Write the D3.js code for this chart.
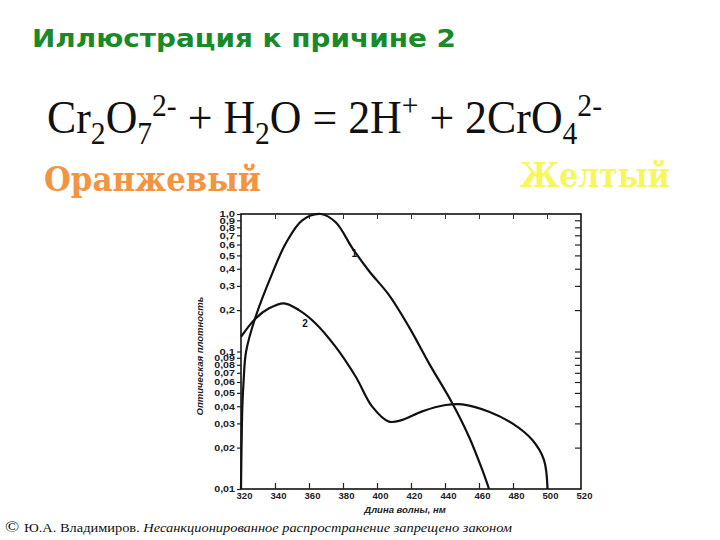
<!DOCTYPE html>
<html><head><meta charset="utf-8">
<script src="https://cdn.jsdelivr.net/npm/d3@7"></script>
<style>body{margin:0;background:#fff}svg{display:block}</style>
</head><body>
<script>
// ---- data ----
const curve1X = [320, 320.8, 321.5, 323, 328.6, 338.4, 346.3, 356, 366.9, 375.7, 385.5, 395.3, 407, 418.8, 430.6, 444.3, 454.1, 462, 465.9];
const curve1Y = [0.01, 0.04, 0.06, 0.1, 0.179, 0.37, 0.61, 0.90, 1.0, 0.87, 0.565, 0.385, 0.258, 0.151, 0.082, 0.042, 0.024, 0.0137, 0.01];
const curve2X = [320, 328.6, 336.5, 345.3, 354.1, 363.9, 375.7, 387.5, 397.2, 407, 414.9, 426.6, 440.4, 450.2, 465.9, 479.6, 491.4, 498.2, 500.3];
const curve2Y = [0.128, 0.174, 0.206, 0.224, 0.2, 0.16, 0.108, 0.0655, 0.0397, 0.0309, 0.0318, 0.0367, 0.0408, 0.0413, 0.0365, 0.030, 0.0227, 0.0163, 0.01];
const yTicks = [1, 0.9, 0.8, 0.7, 0.6, 0.5, 0.4, 0.3, 0.2, 0.1, 0.09, 0.08, 0.07, 0.06, 0.05, 0.04, 0.03, 0.02, 0.01];
const xTicks = [320, 340, 360, 380, 400, 420, 440, 460, 480, 500, 520];
const curveLabels = ["1", "2"];
const curveLabelAt = [[385, 0.49], [356, 0.15]];
const titleText = "Иллюстрация к причине 2";
const orangeText = "Оранжевый";
const yellowText = "Желтый";
const yTitle = "Оптическая плотность";
const xTitle = "Длина волны, нм";

const W = 720, H = 540;
const svg = d3.select("body").append("svg").attr("width", W).attr("height", H);

// ---- header ----
svg.append("text").attr("x", 32).attr("y", 47)
  .attr("font-family", "DejaVu Sans, Verdana, sans-serif").attr("font-weight", "bold")
  .attr("font-size", 25).attr("fill", "#188a27")
  .attr("textLength", 424).attr("lengthAdjust", "spacingAndGlyphs")
  .text(titleText);

const eq = svg.append("text").attr("x", 47).attr("y", 133)
  .attr("font-family", "Liberation Serif, Times New Roman, serif")
  .attr("font-size", 46).attr("fill", "#111");
const parts = [
  ["Cr", 0], ["2", 1], ["O", 0], ["7", 1], ["2-", 2], [" + H", 0], ["2", 1], ["O = 2H", 0], ["+", 2], [" + 2CrO", 0], ["4", 1], ["2-", 2]
];
let state = 0;
parts.forEach(([t, s]) => {
  const ts = eq.append("tspan").text(t);
  const off = {0: 0, 1: 11, 2: -17};
  const dy = off[s] - off[state];
  if (dy) ts.attr("dy", dy);
  if (s) ts.attr("font-size", 31);
  state = s;
});
eq.attr("textLength", 555).attr("lengthAdjust", "spacingAndGlyphs");

svg.append("text").attr("x", 44).attr("y", 191)
  .attr("font-family", "DejaVu Serif, serif").attr("font-weight", "bold")
  .attr("font-size", 34).attr("fill", "#f29440")
  .attr("textLength", 217).attr("lengthAdjust", "spacingAndGlyphs")
  .text(orangeText);
svg.append("text").attr("x", 520).attr("y", 187)
  .attr("font-family", "DejaVu Serif, serif").attr("font-weight", "bold")
  .attr("font-size", 34).attr("fill", "#f6f85a")
  .attr("textLength", 150).attr("lengthAdjust", "spacingAndGlyphs")
  .text(yellowText);

// ---- chart ----
const L = 241, R = 581, T = 214, B = 489;
const x = d3.scaleLinear().domain([320, 520]).range([L, R]);
const y = d3.scaleLog().domain([0.01, 1]).range([B, T]);
const fmt = v => String(v).replace(".", ",").replace(/^1$/, "1,0");
const g = svg.append("g").attr("font-family", "Liberation Sans, Arial, sans-serif");

// frame
g.append("rect").attr("x", L).attr("y", T).attr("width", R - L).attr("height", B - T)
  .attr("fill", "none").attr("stroke", "#111").attr("stroke-width", 1.6);

const left = g.append("g").attr("transform", `translate(${L},0)`)
  .call(d3.axisLeft(y).tickValues(yTicks).tickFormat(fmt).tickSize(4).tickPadding(2));
left.select(".domain").remove();
left.selectAll("text").attr("font-size", 9).attr("font-weight", "bold").attr("fill", "#222")
  .attr("textLength", d => String(fmt(d)).length * 5.2).attr("lengthAdjust", "spacingAndGlyphs");
left.selectAll("line").attr("stroke", "#222").attr("stroke-width", 1.2);

const right = g.append("g").attr("transform", `translate(${R},0)`)
  .call(d3.axisLeft(y).tickValues(yTicks.slice(1, -1)).tickFormat("").tickSize(6));
right.select(".domain").remove();
right.selectAll("line").attr("stroke", "#222").attr("stroke-width", 1.2);

const bottom = g.append("g").attr("transform", `translate(0,${B})`)
  .call(d3.axisBottom(x).tickValues(xTicks).tickSize(0).tickPadding(3));
bottom.select(".domain").remove();
bottom.selectAll("text").attr("font-size", 9.5).attr("font-weight", "bold").attr("fill", "#222")
  .attr("dx", 3);
const bTicks = g.append("g").attr("transform", `translate(0,${B})`)
  .call(d3.axisTop(x).tickValues(xTicks.slice(1, -1)).tickFormat("").tickSize(6));
bTicks.select(".domain").remove();
bTicks.selectAll("line").attr("stroke", "#222").attr("stroke-width", 1.2);
const tTicks = g.append("g").attr("transform", `translate(0,${T})`)
  .call(d3.axisBottom(x).tickValues(xTicks.slice(1, -1)).tickFormat("").tickSize(5));
tTicks.select(".domain").remove();
tTicks.selectAll("line").attr("stroke", "#333").attr("stroke-width", 1);

// curves
const line = d3.line().x(d => x(d[0])).y(d => y(d[1])).curve(d3.curveCatmullRom.alpha(0.5));
[[curve1X, curve1Y], [curve2X, curve2Y]].forEach(([xs, ys]) => {
  g.append("path").datum(xs.map((v, i) => [v, ys[i]]))
    .attr("d", line).attr("fill", "none").attr("stroke", "#111").attr("stroke-width", 2.2);
});
curveLabels.forEach((t, i) => {
  g.append("text").attr("x", x(curveLabelAt[i][0])).attr("y", y(curveLabelAt[i][1]))
    .attr("font-size", 10).attr("font-weight", "bold").attr("fill", "#111").text(t);
});

// axis titles
g.append("text").attr("transform", `translate(203,356) rotate(-90)`)
  .attr("text-anchor", "middle").attr("font-size", 9.5).attr("font-style", "italic")
  .attr("font-weight", "bold").attr("fill", "#222").text(yTitle);
g.append("text").attr("x", 405).attr("y", 513)
  .attr("text-anchor", "middle").attr("font-size", 9.5).attr("font-style", "italic")
  .attr("font-weight", "bold").attr("fill", "#222").text(xTitle);

// footer
const ft = svg.append("text").attr("x", 5).attr("y", 532)
  .attr("font-family", "Liberation Serif, Times New Roman, serif").attr("font-size", 11.5).attr("fill", "#111");
ft.append("tspan").attr("font-size", 15).text("© ");
ft.append("tspan").text("Ю.А. Владимиров. ");
ft.append("tspan").attr("font-style", "italic").text("Несанкционированное распространение запрещено законом");
ft.attr("textLength", 507).attr("lengthAdjust", "spacingAndGlyphs");
</script>
</body></html>
